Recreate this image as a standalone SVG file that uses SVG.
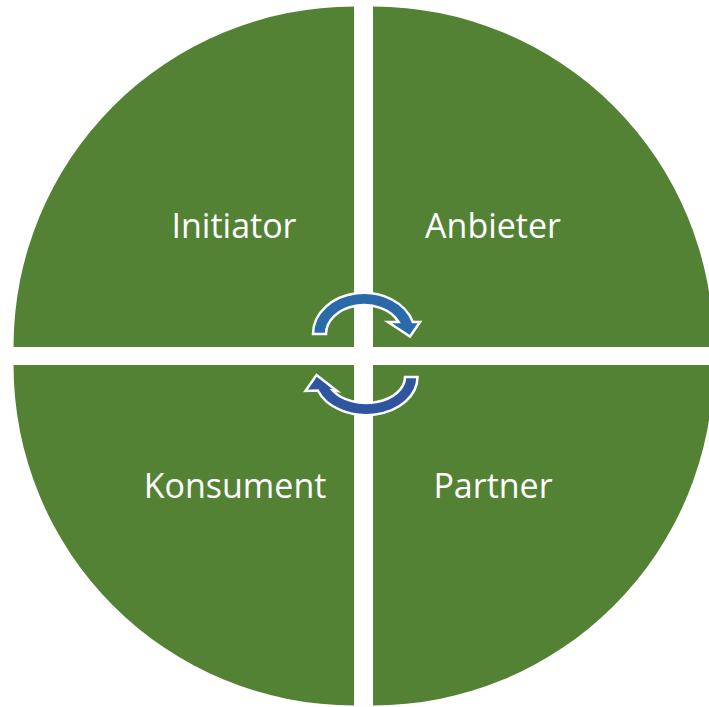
<svg xmlns="http://www.w3.org/2000/svg" width="709" height="707" viewBox="0 0 709 707">
<style>
.q{fill:#548235}
.lbl{font-family:"Open Sans","Liberation Sans",sans-serif;font-size:34px;fill:#ffffff;text-anchor:middle}
.arr{stroke:#ffffff;stroke-width:2.5;stroke-linejoin:miter}
</style>
<rect width="709" height="707" fill="#ffffff"/>
<g id="initiator">
<path class="q" d="M354,347 L13.5,347 A340.5,340.5 0 0 1 354,6.5 Z"/>
<text class="lbl" x="234" y="238">Initiator</text>
</g>
<g id="anbieter">
<path class="q" d="M373,347 L373,6.5 A340.5,340.5 0 0 1 713.5,347 Z"/>
<text class="lbl" x="493" y="238">Anbieter</text>
</g>
<g id="konsument">
<path class="q" d="M354,365 L354,705.5 A340.5,340.5 0 0 1 13.5,365 Z"/>
<text class="lbl" x="235" y="498">Konsument</text>
</g>
<g id="partner">
<path class="q" d="M373,365 L713.5,365 A340.5,340.5 0 0 1 373,705.5 Z"/>
<text class="lbl" x="493" y="498">Partner</text>
</g>
<g id="connectors">
<path class="arr" fill="#2A6AA8" d="M313,334 A51,41 0 0 1 412.8,322 L420,322 L410,336.5 L388,322 L398.6,322 A38,29 0 0 0 326,334 Z"/>
<path class="arr" fill="#2F55A0" d="M417.5,377 A51.5,38 0 0 1 317.8,390.5 L305.5,391 L316.5,375 L337,391 L332.7,390.5 A39,26 0 0 0 405,377 Z"/>
</g>
</svg>
